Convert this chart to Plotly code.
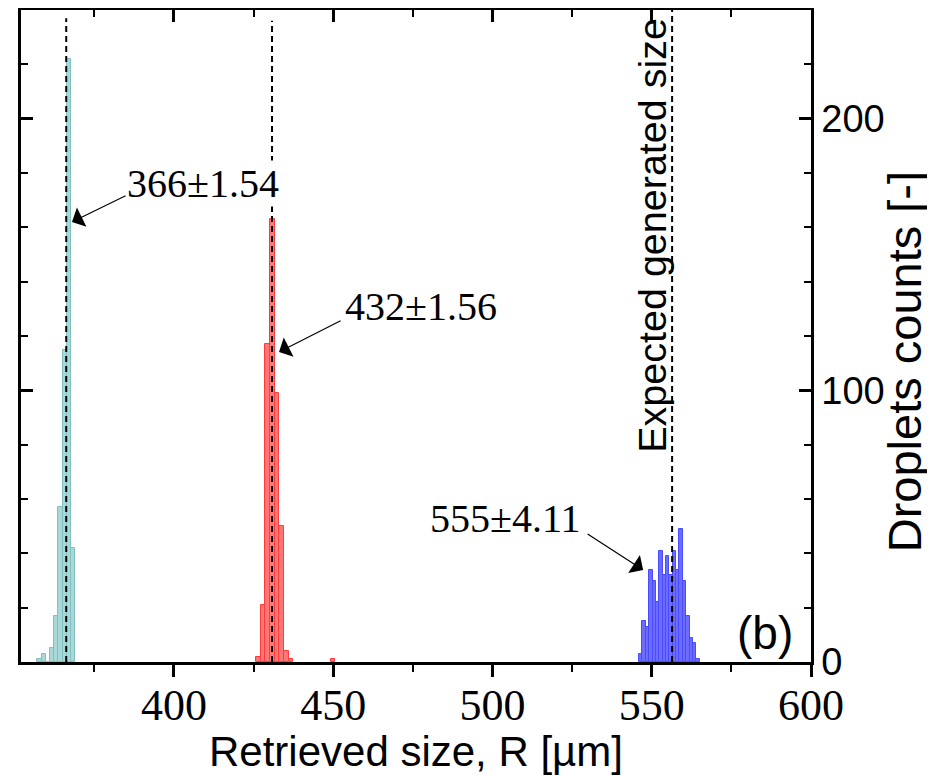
import plotly.graph_objects as go

# ---- data ----
cyan_centers = [357.78, 359.10, 360.42, 361.74, 363.06, 364.38, 365.70, 367.02, 368.34]
cyan_counts = [1, 3, 0, 5, 17, 57, 115, 222, 42]
cyan_width = 1.32

red_centers = [426.51, 427.98, 429.44, 430.91, 432.38, 433.84, 435.31, 436.78, 449.97]
red_counts = [2, 21, 117, 163, 99, 50, 4, 1, 1]
red_width = 1.466

blue_centers = [546.56, 547.62, 548.67, 549.73, 550.78, 551.84, 552.89, 553.95, 555.00,
                556.06, 557.11, 558.17, 559.22, 560.28, 561.33, 562.39, 563.44, 564.50]
blue_counts = [3, 15, 13, 34, 30, 22, 41, 32, 39, 32, 41, 34, 49, 30, 17, 9, 7, 1]
blue_width = 1.055

mean_x = [366.2, 430.8, 556.4]
mean_top = [237, 236, 240]

x_ticks = [400, 450, 500, 550, 600]
x_minor = [375, 425, 475, 525, 575]
y_ticks = [0, 100, 200]
y_minor = [20, 40, 60, 80, 120, 140, 160, 180, 220]

labels = ["366±1.54", "432±1.56", "555±4.11"]

fig = go.Figure()

series = [
    (cyan_centers, cyan_counts, cyan_width, "rgba(160,212,212,0.9)", "#80c0c0"),
    (red_centers, red_counts, red_width, "rgba(255,105,105,0.9)", "#ff3c3c"),
    (blue_centers, blue_counts, blue_width, "rgba(100,100,255,0.95)", "#4a4aff"),
]
for c, n, w, fill, edge in series:
    fig.add_trace(go.Bar(x=c, y=n, width=w, marker=dict(color=fill, line=dict(color=edge, width=1)),
                         showlegend=False, hoverinfo="x+y"))

fig.add_trace(go.Scatter(x=[None], y=[None], xaxis="x2", yaxis="y2", showlegend=False, hoverinfo="skip"))

shapes = []
for xm, yt in zip(mean_x, mean_top):
    shapes.append(dict(type="line", xref="x", yref="y", x0=xm, x1=xm, y0=0, y1=yt,
                       line=dict(color="black", width=2, dash="6px,4px"), layer="above"))

serif = "Times New Roman, Liberation Serif, serif"
sans = "Arial, Liberation Sans, sans-serif"

arrow = dict(xref="x", yref="y", axref="x", ayref="y", text="", showarrow=True,
             arrowhead=1, arrowsize=3, arrowwidth=1.2, arrowcolor="black")

annotations = [
    dict(x=409.1, y=176.3, xref="x", yref="y", text=labels[0], showarrow=False,
         font=dict(family=serif, size=40, color="black"), bgcolor="white", borderpad=0),
    dict(x=477.6, y=130.7, xref="x", yref="y", text=labels[1], showarrow=False,
         font=dict(family=serif, size=40, color="black")),
    dict(x=504.0, y=53.0, xref="x", yref="y", text=labels[2], showarrow=False,
         font=dict(family=serif, size=40, color="black")),
    dict(x=368.0, y=162.0, ax=385.3, ay=171.9, **arrow),
    dict(x=433.0, y=114.1, ax=452.8, ay=125.9, **arrow),
    dict(x=547.3, y=33.9, ax=529.4, ay=47.5, **arrow),
    dict(x=585.6, y=10.7, xref="x", yref="y", text="(b)", showarrow=False,
         font=dict(family=sans, size=46, color="black")),
    dict(x=550.1, y=156.9, xref="x", yref="y", text="Expected generated size", showarrow=False,
         textangle=-90, font=dict(family=sans, size=39.5, color="black")),
    dict(x=1.118, y=0.46, xref="paper", yref="paper", xanchor="center", yanchor="middle",
         text="Droplets counts [-]", showarrow=False,
         textangle=-90, font=dict(family=sans, size=47, color="black")),
]

common_tick = dict(tickcolor="black", showline=True, linecolor="black", linewidth=2.5,
                   showgrid=False, zeroline=False, automargin=False)

fig.update_layout(
    width=927, height=767,
    margin=dict(l=13, r=124, t=2, b=113, autoexpand=False),
    paper_bgcolor="white", plot_bgcolor="white",
    font=dict(family=serif, color="black"),
    barmode="overlay", bargap=0,
    shapes=shapes, annotations=annotations,
    xaxis=dict(range=[352, 600], tickmode="array", tickvals=x_ticks, ticks="outside", ticklen=12,
               tickwidth=2.5, **common_tick, ticklabelstandoff=-10,
               tickfont=dict(family=serif, size=44, color="black"),
               minor=dict(tickmode="array", tickvals=x_minor, ticks="outside", ticklen=7,
                          tickwidth=2, tickcolor="black", showgrid=False),
               title=dict(text="Retrieved size, R [µm]", standoff=2,
                          font=dict(family=sans, size=42, color="black"))),
    xaxis2=dict(range=[352, 600], overlaying="x", side="top", anchor="y2", tickmode="array",
                tickvals=x_ticks, ticks="inside", ticklen=12, tickwidth=2.5, **common_tick,
                showticklabels=False,
                minor=dict(tickmode="array", tickvals=x_minor, ticks="inside", ticklen=7,
                           tickwidth=2, tickcolor="black", showgrid=False)),
    yaxis=dict(range=[0, 240], side="right", tickmode="array", tickvals=y_ticks, ticks="inside",
               ticklen=12, tickwidth=2.5, **common_tick,
               tickfont=dict(family=sans, size=38, color="black"),
               minor=dict(tickmode="array", tickvals=y_minor, ticks="inside", ticklen=7,
                          tickwidth=2, tickcolor="black", showgrid=False)),
    yaxis2=dict(range=[0, 240], overlaying="y", side="left", anchor="x2", tickmode="array",
                tickvals=[100, 200], ticks="inside", ticklen=12, tickwidth=2.5, **common_tick,
                showticklabels=False,
                minor=dict(tickmode="array", tickvals=y_minor, ticks="inside", ticklen=7,
                           tickwidth=2, tickcolor="black", showgrid=False)),
)

fig.write_html("out.html")
